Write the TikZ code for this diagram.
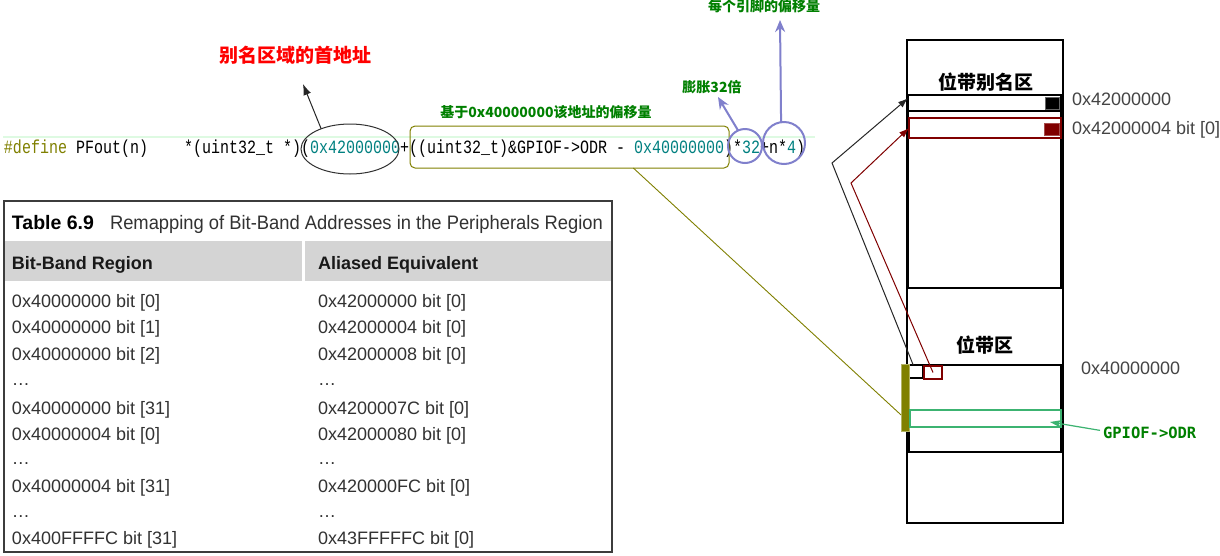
\documentclass[tikz,border=0pt]{standalone}
\usepackage{fontspec}
\usepackage{graphicx}
\setmainfont{Liberation Sans}
\newfontfamily\cjkf{Noto Sans CJK SC}
\newfontfamily\codef{Liberation Mono}
\newfontfamily\monobf{DejaVu Sans Mono}
\usetikzlibrary{arrows.meta,calc,shapes.geometric}
\definecolor{defc}{RGB}{128,128,0}
\definecolor{numc}{RGB}{0,128,128}
\definecolor{olivec}{RGB}{128,128,0}
\definecolor{gtext}{RGB}{0,128,0}
\definecolor{lav}{RGB}{128,128,204}
\definecolor{seag}{RGB}{60,179,113}
\definecolor{dred}{RGB}{128,0,0}
\definecolor{addrc}{RGB}{68,68,68}
\definecolor{tblc}{RGB}{60,60,60}
\definecolor{hdr}{RGB}{212,212,212}
\definecolor{rowc}{RGB}{50,50,50}
\definecolor{hlc}{RGB}{222,250,226}
\newcommand\csp{\hbox to 9pt{}}
\begin{document}
\begin{tikzpicture}[x=1pt,y=-1pt,
  every node/.style={inner sep=0pt, outer sep=0pt},
  redlbl/.style={font=\cjkf\bfseries\fontsize{19}{19}\selectfont, text=red},
  glbl/.style={font=\cjkf\bfseries\fontsize{14}{14}\selectfont, text=gtext},
  blbl/.style={font=\cjkf\bfseries\fontsize{19}{19}\selectfont, text=black},
  addr/.style={anchor=base west, font=\fontsize{18}{18}\selectfont, text=addrc},
  cell/.style={anchor=base west, font=\fontsize{18}{18}\selectfont, text=rowc},
  hcell/.style={anchor=base west, font=\bfseries\fontsize{18}{18}\selectfont, text=black!90},
  bx/.style={anchor=north west, minimum width=#1},
  lavarrow/.style={draw=lav, line width=2, -{Stealth[length=12pt,width=10pt]}},
  ring/.style={circle, draw=lav, line width=2}
]
\useasboundingbox[fill=white] (0,0) rectangle (1220,555);

% code line
\draw[hlc, line width=2.5] (3,137) -- (815,137);
\node[anchor=base west, font=\codef\fontsize{15}{15}\selectfont] (code) at (4,153)
 {\scalebox{1}[1.25]{\textcolor{defc}{\#define}\csp PFout(n)\csp\csp\csp\csp*(uint32\_t\csp*)(\textcolor{numc}{0x42000000}+((uint32\_t)\&GPIOF->ODR\csp-\csp\textcolor{numc}{0x40000000})*\textcolor{numc}{32}+n*\textcolor{numc}{4})}};

% ellipse and red label
\node[ellipse, draw=black!80, line width=1, minimum width=98, minimum height=50] (e42) at (350,149) {};
\node[redlbl] (redlab) at (295,55) {别名区域的首地址};
\coordinate (tipA) at (303,84);
\draw[black!85, line width=1, -{Latex[length=11pt,width=8pt]}] (e42.145) -- (tipA);

% offset box
\node[draw=olivec, line width=1, rounded corners=5pt, bx=319, minimum height=42] (offbox) at (410,126) {};
\node[glbl] (offlab) at (546,112) {基于0x40000000该地址的偏移量};

% blue rings
\node[ring, minimum size=34] (c32) at (745,146) {};
\node[ring, minimum size=42] (cn4) at (784,143) {};
\node[glbl] (lab32) at (712,87) {膨胀32倍};
\node[glbl] (labpin) at (764,6) {每个引脚的偏移量};
\coordinate (tipB) at (718,97);
\coordinate (tipC) at (780,20);
\draw[lavarrow] (c32.114) -- (tipB);
\draw[lavarrow] (cn4.98) -- (tipC);

% memory map
\node[draw, line width=1.2, bx=156, minimum height=483] (mem) at (907,40) {};
\node[blbl] (aliaslab) at (986,82) {位带别名区};
\node[draw, line width=2, bx=153, minimum height=193] (alias) at (908,95) {};
\node[draw, line width=1.2, bx=153, minimum height=16] (row0) at (908,95) {};
\node[fill=black, draw=black!60, line width=0.8, bx=14, minimum height=12] (sq0) at (1045,97) {};
\node[draw=dred, line width=1.2, bx=152, minimum height=20] (row1) at (909,118) {};
\node[fill=dred, draw=dred!70, line width=0.8, bx=15, minimum height=12] (sq1) at (1044,123) {};
\node[addr] (a0) at (1072,105.5) {0x42000000};
\node[addr] (a1) at (1072,134) {0x42000004 bit [0]};

\node[blbl] (bblab) at (985,345) {位带区};
\node[draw, line width=1.2, bx=152, minimum height=87] (bb) at (909,365) {};
\node[draw, line width=1.2, bx=14, minimum height=13] (b0) at (909,365) {};
\node[draw=dred, line width=1.2, bx=18, minimum height=13] (b1) at (924,366) {};
\node[fill=olivec, draw=olivec!60, line width=0.8, bx=8, minimum height=67] (obar) at (901,364) {};
\node[draw=seag, line width=1.4, bx=151, minimum height=17] (odr) at (910,410) {};
\node[addr] (a2) at (1081,374) {0x40000000};
\node[anchor=base west, font=\monobf\bfseries\fontsize{15.5}{15.5}\selectfont, text=gtext] (gpiolab) at (1103,438) {GPIOF->ODR};

% connectors on memory map
\coordinate (k1) at (832,163);
\coordinate (k2) at (851,183);
\draw[black!85, line width=1, -{Latex[length=10pt,width=7pt]}]
  ($(b0.north west)!0.3!(b0.north east)$) -- (k1) -- ($(row0.north west)!0.2!(row0.south west)$);
\draw[dred, line width=1, -{Latex[length=10pt,width=7pt]}]
  (b1.center) -- (k2) -- (row1.west);
\draw[seag, line width=1.2, -{Stealth[length=12pt,width=8pt]}]
  ($(gpiolab.west)+(-3,-2)$) -- ($(odr.east)+(-11,3.5)$);
\draw[olivec, line width=0.9]
  ($(offbox.south west)!0.7!(offbox.south east)$) -- ($(obar.north west)!0.76!(obar.south west)$);

% table
\node[draw=tblc, line width=1.8, fill=white, bx=608, minimum height=351] (tbl) at (4,201) {};
\node[fill=hdr, bx=297, minimum height=40] (h1) at (5,241) {};
\node[fill=hdr, bx=305.5, minimum height=40] (h2) at (305,241) {};
\node[anchor=base west, font=\bfseries\fontsize{19.5}{20}\selectfont, text=black] (t1) at (12,229) {Table 6.9};
\node[anchor=base west, font=\fontsize{19.5}{20}\selectfont, text=rowc] (t2) at (110,229)
  {\resizebox{493pt}{\height}{Remapping of Bit-Band Addresses in the Peripherals Region}};
\node[hcell] (hl) at (12,269) {Bit-Band Region};
\node[hcell] (hr) at (318,269) {Aliased Equivalent};
\foreach \yy/\l/\r [count=\i] in {
  307/{0x40000000 bit [0]}/{0x42000000 bit [0]},
  333.5/{0x40000000 bit [1]}/{0x42000004 bit [0]},
  360/{0x40000000 bit [2]}/{0x42000008 bit [0]},
  385/{…}/{…},
  414/{0x40000000 bit [31]}/{0x4200007C bit [0]},
  440/{0x40000004 bit [0]}/{0x42000080 bit [0]},
  464/{…}/{…},
  492/{0x40000004 bit [31]}/{0x420000FC bit [0]},
  517/{…}/{…},
  544/{0x400FFFFC bit [31]}/{0x43FFFFFC bit [0]}}
{
  \node[cell] (rl\i) at (12,\yy) {\l};
  \node[cell] (rr\i) at (318,\yy) {\r};
}
\end{tikzpicture}
\end{document}
